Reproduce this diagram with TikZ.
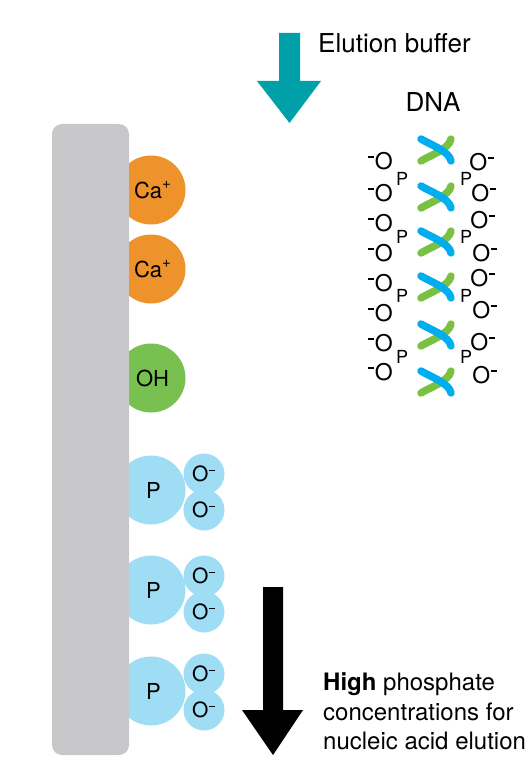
\documentclass[tikz,border=0pt]{standalone}
\usepackage{fontspec}
\setmainfont{TeX Gyre Heros}
\usetikzlibrary{positioning}

\definecolor{colgray}{HTML}{C8C8CA}
\definecolor{caorange}{HTML}{EE922B}
\definecolor{ohgreen}{HTML}{78C151}
\definecolor{phblue}{HTML}{9FDDF5}
\definecolor{buffteal}{HTML}{00A0A8}
\definecolor{dnablue}{HTML}{00AEEF}
\definecolor{dnagreen}{HTML}{79C043}

% raised charge signs
\newcommand{\chg}[1]{\raisebox{0.42em}{\fontsize{15}{15}\selectfont #1}}
\newcommand{\minussign}{\kern0.5pt\raisebox{0.5em}{\rule{6.5pt}{1.4pt}}\kern0.5pt}

\begin{document}
\begin{tikzpicture}[x=1pt,y=-1pt,
		ion/.style={
			circle,
			inner sep=0,
			minimum size=69pt,
			font=\fontsize{22}{22}\selectfont
		},
		oxy/.style={
			circle,
			fill=phblue,
			inner sep=0,
			minimum size=41pt,
			font=\fontsize{21}{21}\selectfont
		},
		lbl/.style={
			inner sep=0,
			font=\fontsize{26}{26}\selectfont
		},
		dnatext/.style={
			inner sep=0,
			font=\fontsize{23}{23}\selectfont
		},
		ptext/.style={
			inner sep=0,
			font=\fontsize{18}{18}\selectfont
		},
		strand/.style={
			line width=7.5pt,
			line cap=round
		}
		]
		\useasboundingbox (0,0) rectangle (526,757);
		% Surface groups
		\node[ion,fill=caorange] (ca1) at (151,190) {\hspace{3pt}Ca\chg{+}};
		\node[ion,fill=caorange] (ca2) at (151,269) {\hspace{3pt}Ca\chg{+}};
		\node[ion,fill=ohgreen] (oh) at (151,378) {\hspace{3pt}OH};
		\foreach \py/\oa/\ob [count=\i] in {490/474/510,590/576/612,691/674/710}
		{
			\node[ion,fill=phblue] (p\i) at (151,\py) {\hspace{5pt}P};
			\node[oxy] (p\i a) at (204,\oa) {O\minussign};
			\node[oxy] (p\i b) at (204,\ob) {O\minussign};
		}
		% Column
		\fill[colgray,rounded corners=10pt] (52,124) rectangle (129,755);
		% Elution buffer arrow
		\fill[buffteal] (279,33) -- (300,33) -- (300,81) -- (321,81)
			-- (289.5,123) -- (257,81) -- (279,81) -- cycle;
		\node[lbl,anchor=base west] (buffer) at (318,53) {Elution buffer};
		\node[lbl,anchor=base] (dna) at (433,112) {DNA};
		% DNA helix
		\foreach \yc in {150,197,242,287,335,382}
		{
			\draw[strand,dnagreen] (421,\yc+11) .. controls (431,\yc+5) and (449,\yc-1) .. (451,\yc-11);
			\draw[strand,dnablue] (421,\yc-11) .. controls (431,\yc-5) and (449,\yc+1) .. (451,\yc+11);
		}
		% Phosphate backbone
		\foreach \yy [count=\i] in {161,193,223,253,283,313,343,372}
			\node[dnatext] (lo\i) at (380,\yy) {\minussign O};
		\foreach \yy/\xx [count=\i] in {162/482,193/484,220/483,253/485,278/483,310/485,342/483,375/485}
			\node[dnatext] (ro\i) at (\xx,\yy) {O\minussign};
		\foreach \yy [count=\i] in {179,237,296,357}
		{
			\node[ptext] (lp\i) at (402,\yy) {P};
			\node[ptext] (rp\i) at (466,\yy) {P};
		}
		% High phosphate arrow
		\fill[black] (263,587) -- (283,587) -- (283,710) -- (303,710)
			-- (273,755) -- (242,710) -- (263,710) -- cycle;
		\node[lbl,font=\fontsize{24}{24}\selectfont,anchor=base west] (elute1) at (323,690) {\textbf{High} phosphate};
		\node[lbl,font=\fontsize{24}{24}\selectfont,anchor=base west] (elute2) at (323,720) {concentrations for};
		\node[lbl,font=\fontsize{24}{24}\selectfont,anchor=base west] (elute3) at (323,749) {nucleic acid elution};
\end{tikzpicture}
\end{document}
